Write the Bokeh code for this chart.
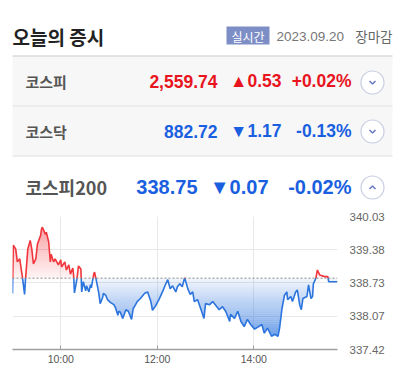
import numpy as np
from bokeh.plotting import figure
from bokeh.layouts import column
from bokeh.models import Range1d, FixedTicker, Span
from bokeh.core.properties import value
from bokeh.embed import file_html
from bokeh.resources import INLINE

# ---------------- content ----------------
title_text = "오늘의 증시"
badge_text = "실시간"
date_text = "2023.09.20"
status_text = "장마감"

index_names = ["코스피", "코스닥", "코스피200"]
index_values = ["2,559.74", "882.72", "338.75"]
index_changes = ["▲0.53", "▼1.17", "▼0.07"]
index_pcts = ["+0.02%", "-0.13%", "-0.02%"]
index_up = [True, False, False]

# KOSPI200 intraday (minutes after 09:00, index value)
prev_close = 338.82
minutes = [0, 1, 4, 6, 9, 11, 12, 15, 16, 19, 22, 24, 26, 29, 31, 35, 36, 37, 41, 42,
           45, 47, 48, 51, 53, 57, 60, 61, 65, 67, 70, 72, 75, 76, 77, 80, 82, 85, 86, 88,
           91, 92, 95, 97, 98, 101, 102, 104, 107, 109, 112, 113, 116, 118, 122, 126, 128, 131, 132, 134,
           137, 141, 144, 148, 150, 153, 155, 159, 163, 165, 168, 172, 174, 178, 182, 187, 190, 193, 196, 199,
           203, 205, 208, 211, 214, 218, 221, 224, 226, 230, 234, 238, 240, 245, 249, 252, 257, 261, 265, 270,
           271, 276, 280, 284, 288, 292, 296, 301, 305, 310, 313, 317, 322, 326, 330, 332, 335, 338, 341, 342,
           346, 348, 352, 354, 357, 359, 361, 366, 368, 371, 373, 374, 377, 379, 382, 388, 392, 393, 400, 404]
values = [338.52, 339.47, 339.39, 339.14, 339.20, 338.98, 338.88, 338.50, 338.75, 339.39,
          339.56, 339.39, 339.10, 339.20, 339.49, 339.66, 339.78, 339.82, 339.68, 339.72,
          339.53, 339.14, 339.29, 339.14, 339.20, 339.08, 339.18, 339.04, 339.14, 338.98,
          339.08, 338.90, 339.02, 338.87, 338.53, 338.79, 339.06, 339.00, 338.55, 338.75,
          338.57, 338.67, 338.55, 338.69, 338.63, 338.90, 338.94, 338.79, 338.55, 338.32,
          338.44, 338.52, 338.48, 338.40, 338.34, 338.30, 338.24, 338.09, 338.17, 338.15,
          338.03, 338.20, 338.17, 338.01, 338.22, 338.30, 338.36, 338.42, 338.50, 338.53,
          338.55, 338.36, 338.19, 338.28, 338.40, 338.57, 338.69, 338.79, 338.61, 338.67,
          338.55, 338.65, 338.71, 338.65, 338.83, 338.61, 338.50, 338.55, 338.36, 338.40,
          338.22, 338.03, 338.32, 338.30, 338.36, 338.30, 338.20, 338.26, 338.17, 337.97,
          338.11, 338.03, 338.17, 337.97, 337.87, 338.01, 337.91, 337.82, 337.86, 337.91,
          337.74, 337.84, 337.68, 337.72, 337.68, 337.84, 338.22, 338.48, 338.55, 338.40,
          338.46, 338.36, 338.55, 338.59, 338.30, 338.20, 338.42, 338.46, 338.69, 338.42,
          338.46, 338.71, 338.81, 338.98, 338.88, 338.85, 338.85, 338.75, 338.75, 338.75]

y_ticks = [337.42, 338.07, 338.73, 339.38, 340.03]
x_ticks = [10, 12, 14]
x_tick_labels = ["10:00", "12:00", "14:00"]

RED = "#e8141e"
BLUE = "#1a5fe0"
LINE_RED = "#f0363c"
LINE_BLUE = "#2b74de"
KFONT = "Noto Sans CJK KR"
NFONT = "Liberation Sans"

# ---------------- header figure ----------------
hdr = figure(width=408, height=207, x_range=Range1d(0, 408), y_range=Range1d(207, 0),
             output_backend="svg", toolbar_location=None, min_border=0,
             x_axis_location=None, y_axis_location=None)
hdr.frame_align = False
hdr.grid.visible = False
hdr.outline_line_color = None

# row backgrounds
hdr.quad(left=[12, 12], right=[392, 392], top=[56, 106], bottom=[105, 155],
         fill_color="#f7f7f7", line_color=None)
# separators
hdr.segment(x0=[12, 12, 12], x1=[392, 392, 392], y0=[55.5, 105.5, 155.5], y1=[55.5, 105.5, 155.5],
            line_color=["#c8c8c8", "#dddddd", "#dddddd"], line_width=1)

hdr.text(x=[12], y=[36], text=[title_text], text_font=value(KFONT), text_font_size=value("19px"),
         text_font_style="bold", text_color="#222222", text_baseline="middle", text_align="left")

hdr.quad(left=[226], right=[269], top=[26], bottom=[44], fill_color="#7d8ec6", line_color=None)
hdr.text(x=[247.5], y=[35.5], text=[badge_text], text_font=value(KFONT), text_font_size=value("12px"),
         text_color="white", text_baseline="middle", text_align="center")
hdr.text(x=[276], y=[35.5], text=[date_text], text_font=value(NFONT), text_font_size=value("13.5px"),
         text_color="#777777", text_baseline="middle", text_align="left")
hdr.text(x=[392], y=[35.5], text=[status_text], text_font=value(KFONT), text_font_size=value("13.5px"),
         text_color="#666666", text_baseline="middle", text_align="right")

row_y = [80.5, 130.5, 186]
name_sizes = ["15px", "15px", "18px"]
num_sizes = ["17.5px", "17.5px", "20px"]
num_right = [[217, 281, 351], [217, 281, 351], [197, 268, 351]]
for i in range(3):
    col = RED if index_up[i] else BLUE
    hdr.text(x=[25], y=[row_y[i]], text=[index_names[i]], text_font=value(KFONT),
             text_font_size=value(name_sizes[i]), text_font_style="bold", text_color="#555555",
             text_baseline="middle", text_align="left")
    hdr.text(x=num_right[i], y=[row_y[i]] * 3,
             text=[index_values[i], index_changes[i], index_pcts[i]], text_font=value(NFONT),
             text_font_size=value(num_sizes[i]), text_font_style="bold", text_color=col,
             text_baseline="middle", text_align="right")

circ_y = [82, 131, 187]
hdr.scatter(x=[372] * 3, y=circ_y, size=23, fill_color="white", line_color="#c9cde2", line_width=1.2)
hdr.multi_line(xs=[[369, 372, 375], [369, 372, 375], [369, 372, 375]],
               ys=[[80.5, 83.5, 80.5], [129.5, 132.5, 129.5], [188.5, 185.5, 188.5]],
               line_color="#6c7cc4", line_width=1.6)

# ---------------- chart figure ----------------
x_end = 9 + minutes[-1] / 60
ch = figure(width=408, height=160, x_range=Range1d(9, x_end), y_range=Range1d(y_ticks[0], y_ticks[-1]),
            output_backend="svg", toolbar_location=None, y_axis_location="right",
            min_border_left=12, min_border_right=71, min_border_top=9, min_border_bottom=17)
ch.frame_align = False
ch.outline_line_color = None

xs = 9 + np.array(minutes) / 60.0
ys = np.array(values)
base = prev_close

# insert baseline crossing points so red/blue segments split cleanly
px, py = [xs[0]], [ys[0]]
for i in range(1, len(xs)):
    a, b = ys[i - 1] - base, ys[i] - base
    if a * b < 0:
        t = a / (a - b)
        px.append(xs[i - 1] + t * (xs[i] - xs[i - 1]))
        py.append(base)
    px.append(xs[i])
    py.append(ys[i])
px, py = np.array(px), np.array(py)

# gradient fills (rendering only: dense resample of the polyline)
fx = np.linspace(px[0], px[-1], 2000)
fy = np.interp(fx, px, py)
top_v = ys.max()
bot_v = ys.min()
nb = 28
lv = np.linspace(base, top_v, nb + 1)
for k in range(nb):
    lo, hi = lv[k], lv[k + 1]
    frac = ((lo + hi) / 2 - base) / (top_v - base)
    ch.varea(x=fx, y1=np.full_like(fx, lo), y2=np.clip(fy, lo, hi),
             fill_color=LINE_RED, fill_alpha=0.05 + 0.42 * frac)
lv = np.linspace(base, bot_v, nb + 1)
for k in range(nb):
    hi, lo = lv[k], lv[k + 1]
    frac = (base - (lo + hi) / 2) / (base - bot_v)
    ch.varea(x=fx, y1=np.full_like(fx, hi), y2=np.clip(fy, lo, hi),
             fill_color=LINE_BLUE, fill_alpha=0.06 + 0.62 * frac)

ch.add_layout(Span(location=base, dimension="width", line_color="#8a8a8a",
                   line_dash="2 2", line_width=1))

red_y = np.where(py >= base, py, np.nan)
blue_y = np.where(py <= base, py, np.nan)
ch.line(px, blue_y, line_color=LINE_BLUE, line_width=1.6)
ch.line(px, red_y, line_color=LINE_RED, line_width=1.6)

ch.xgrid.ticker = FixedTicker(ticks=x_ticks)
ch.ygrid.ticker = FixedTicker(ticks=y_ticks)
ch.grid.grid_line_color = "#e8e8e8"

ch.xaxis.ticker = FixedTicker(ticks=x_ticks)
ch.xaxis.major_label_overrides = {t: l for t, l in zip(x_ticks, x_tick_labels)}
ch.xaxis.axis_line_color = "#a0a0a0"
ch.xaxis.axis_line_width = 1.5
ch.xaxis.major_tick_in = 4
ch.xaxis.major_tick_out = 0
ch.xaxis.major_tick_line_color = "#a0a0a0"
ch.xaxis.minor_tick_line_color = None
ch.xaxis.major_label_standoff = 3
ch.xaxis.major_label_text_font = NFONT
ch.xaxis.major_label_text_font_size = "10.5px"
ch.xaxis.major_label_text_color = "#555555"

ch.yaxis.ticker = FixedTicker(ticks=y_ticks)
ch.yaxis.major_label_overrides = {t: f"{t:.2f}" for t in y_ticks}
ch.yaxis.axis_line_color = None
ch.yaxis.major_tick_line_color = None
ch.yaxis.minor_tick_line_color = None
ch.yaxis.major_label_standoff = 6
ch.yaxis.major_label_text_font = NFONT
ch.yaxis.major_label_text_font_size = "11.5px"
ch.yaxis.major_label_text_color = "#666666"

layout = column(hdr, ch, spacing=0)
open("out.html", "w").write(file_html(layout, INLINE))
